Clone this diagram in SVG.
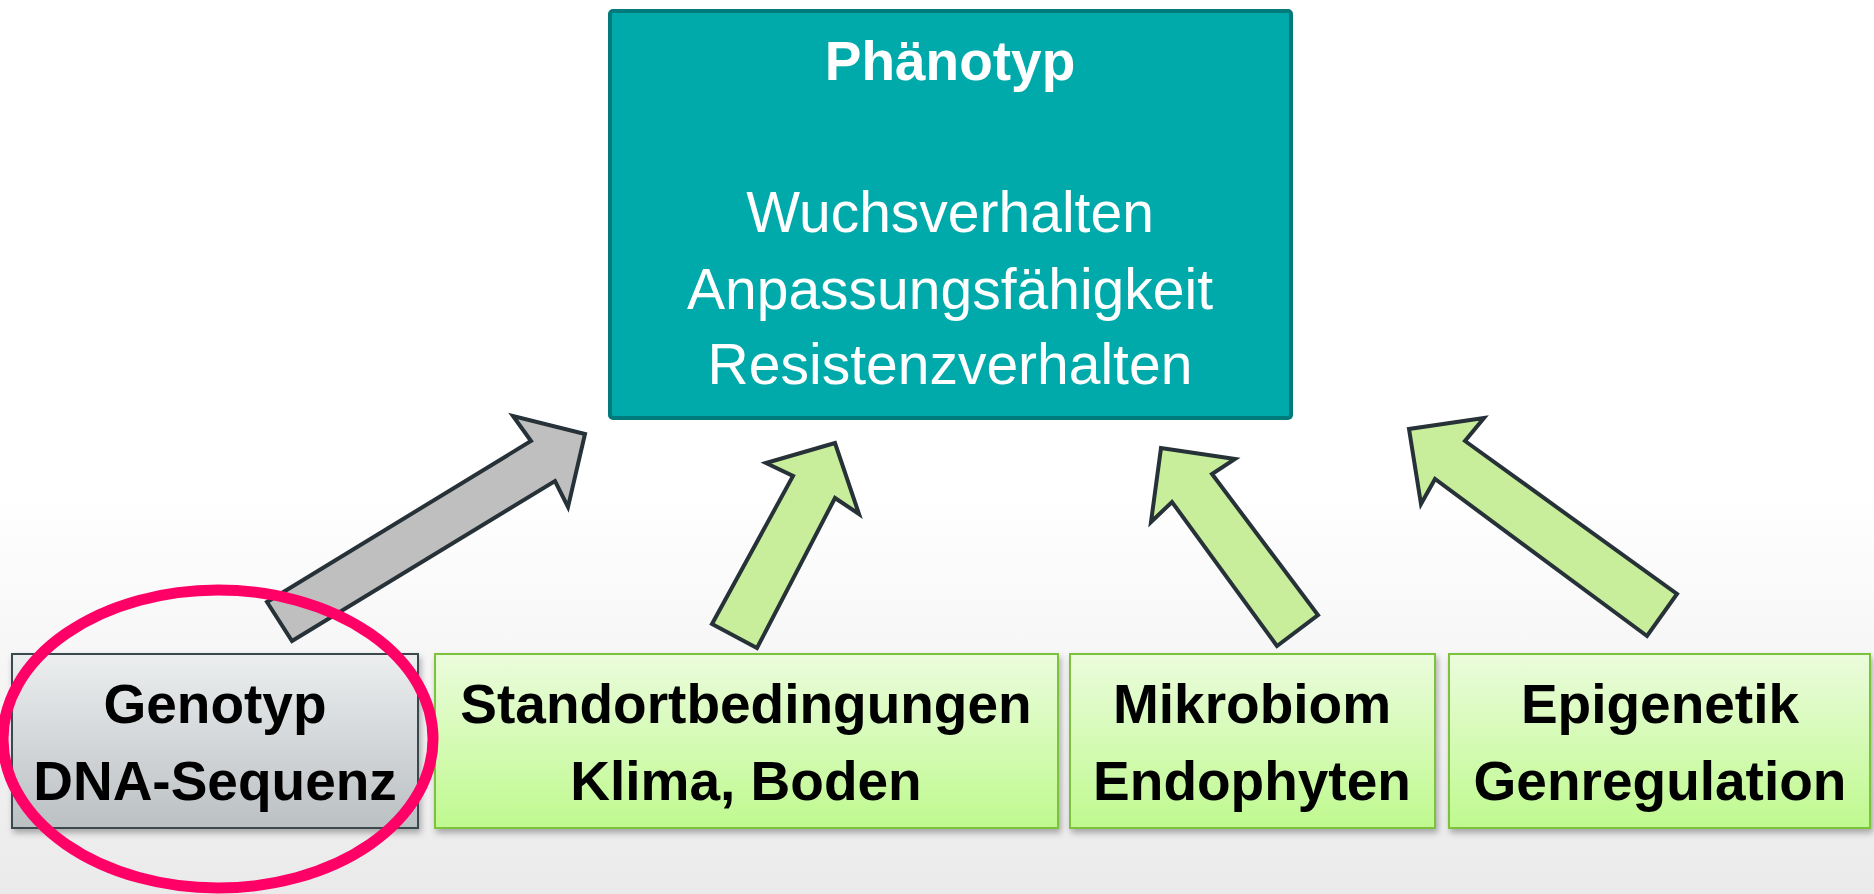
<svg xmlns="http://www.w3.org/2000/svg" width="1874" height="894" viewBox="0 0 1874 894">
  <defs>
    <linearGradient id="bg" x1="0" y1="0" x2="0" y2="1">
      <stop offset="0" stop-color="#ffffff"/>
      <stop offset="0.55" stop-color="#ffffff"/>
      <stop offset="1" stop-color="#eaeaea"/>
    </linearGradient>
    <linearGradient id="greenFill" x1="0" y1="0" x2="0" y2="1">
      <stop offset="0" stop-color="#ebfcdc"/>
      <stop offset="1" stop-color="#bff98f"/>
    </linearGradient>
    <linearGradient id="greyFill" x1="0" y1="0" x2="0" y2="1">
      <stop offset="0" stop-color="#eceeef"/>
      <stop offset="1" stop-color="#bbc0c3"/>
    </linearGradient>
    <filter id="shadow" x="-5%" y="-5%" width="110%" height="120%">
      <feDropShadow dx="2" dy="4" stdDeviation="3" flood-color="#000" flood-opacity="0.3"/>
    </filter>
    <style>
      .bold { font-family: "Liberation Sans", Arial, sans-serif; font-weight: bold; text-anchor: middle; }
      .reg { font-family: "Liberation Sans", Arial, sans-serif; text-anchor: middle; }
      .boxText { font-size: 55px; fill: #000000; }
      .green { fill: url(#greenFill); stroke: #7cc23e; stroke-width: 2; }
      .arrow { stroke: #263238; stroke-width: 4; stroke-linejoin: miter; }
      .arrowGreen { fill: #c9ee9b; }
      .arrowGrey { fill: #bfbfbf; }
    </style>
  </defs>

  <rect x="0" y="0" width="1874" height="894" fill="url(#bg)"/>

  <g id="phaenotyp">
    <rect x="610" y="11" width="681" height="407" rx="3" fill="#00a9aa" stroke="#007a7b" stroke-width="4"/>
    <text class="bold" x="950" y="80" font-size="55" fill="#ffffff">Phänotyp</text>
    <text class="reg" x="950" y="232" font-size="57" fill="#ffffff">Wuchsverhalten</text>
    <text class="reg" x="950" y="309" font-size="57" fill="#ffffff">Anpassungsfähigkeit</text>
    <text class="reg" x="950" y="384" font-size="57" fill="#ffffff">Resistenzverhalten</text>
  </g>

  <g id="connectors">
    <polygon class="arrow arrowGrey" points="267,602 531,441 513,416 585,434 568,507 555,481 292,641"/>
    <polygon class="arrow arrowGreen" points="712,624 793,476 766,463 835,443 859,514 835,498 757,648"/>
    <polygon class="arrow arrowGreen" points="1277,646 1172,502 1151,522 1161,448 1235,459 1212,474 1318,615"/>
    <polygon class="arrow arrowGreen" points="1647,636 1435,479 1421,504 1409,429 1484,418 1465,441 1677,594"/>
  </g>

  <g id="genotyp">
    <rect x="12" y="654" width="406" height="174" fill="url(#greyFill)" stroke="#3b4a50" stroke-width="2" filter="url(#shadow)"/>
    <text class="bold boxText" x="215" y="723">Genotyp</text>
    <text class="bold boxText" x="215" y="800">DNA-Sequenz</text>
  </g>

  <g id="standort">
    <rect class="green" x="435" y="654" width="623" height="174" filter="url(#shadow)"/>
    <text class="bold boxText" x="746" y="723">Standortbedingungen</text>
    <text class="bold boxText" x="746" y="800">Klima, Boden</text>
  </g>

  <g id="mikrobiom">
    <rect class="green" x="1070" y="654" width="365" height="174" filter="url(#shadow)"/>
    <text class="bold boxText" x="1252" y="723">Mikrobiom</text>
    <text class="bold boxText" x="1252" y="800">Endophyten</text>
  </g>

  <g id="epigenetik">
    <rect class="green" x="1449" y="654" width="421" height="174" filter="url(#shadow)"/>
    <text class="bold boxText" x="1660" y="723">Epigenetik</text>
    <text class="bold boxText" x="1660" y="800">Genregulation</text>
  </g>

  <g id="highlight">
    <ellipse cx="218" cy="739" rx="215" ry="149" fill="none" stroke="#ff0066" stroke-width="11"/>
  </g>
</svg>
